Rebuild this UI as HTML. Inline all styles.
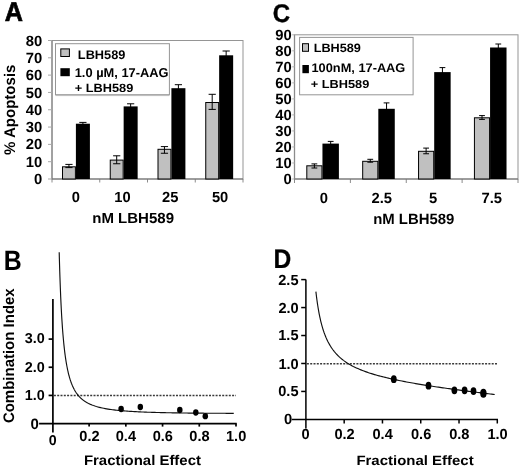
<!DOCTYPE html>
<html><head><meta charset="utf-8"><style>
html,body{margin:0;padding:0;background:#fff;}
body{width:520px;height:469px;overflow:hidden;font-family:"Liberation Sans",sans-serif;}
svg{display:block;text-rendering:geometricPrecision;filter:blur(0.3px);}
</style></head><body>
<svg width="520" height="469" viewBox="0 0 520 469">
<rect width="520" height="469" fill="#fff"/>
<text font-family="Liberation Sans, sans-serif" font-weight="bold" stroke="#000" stroke-width="0.7" stroke-linejoin="miter" font-size="27.05" transform="translate(4.82,20.65) scale(0.932,1)">A</text>
<rect x="52" y="40.5" width="191" height="138.5" fill="none" stroke="#959595" stroke-width="1"/>
<line x1="52" y1="40.5" x2="52" y2="179" stroke="#8c8c8c" stroke-width="1.3"/>
<line x1="48" y1="179.00" x2="52" y2="179.00" stroke="#a8a8a8" stroke-width="1"/>
<text font-family="Liberation Sans, sans-serif" font-weight="bold" font-size="14.80" transform="translate(33.98,184.09) scale(1.000,1)">0</text>
<line x1="48" y1="161.69" x2="52" y2="161.69" stroke="#a8a8a8" stroke-width="1"/>
<text font-family="Liberation Sans, sans-serif" font-weight="bold" font-size="14.80" transform="translate(25.76,166.78) scale(1.000,1)">10</text>
<line x1="48" y1="144.38" x2="52" y2="144.38" stroke="#a8a8a8" stroke-width="1"/>
<text font-family="Liberation Sans, sans-serif" font-weight="bold" font-size="14.80" transform="translate(25.76,149.46) scale(1.000,1)">20</text>
<line x1="48" y1="127.06" x2="52" y2="127.06" stroke="#a8a8a8" stroke-width="1"/>
<text font-family="Liberation Sans, sans-serif" font-weight="bold" font-size="14.80" transform="translate(25.76,132.13) scale(1.000,1)">30</text>
<line x1="48" y1="109.75" x2="52" y2="109.75" stroke="#a8a8a8" stroke-width="1"/>
<text font-family="Liberation Sans, sans-serif" font-weight="bold" font-size="14.80" transform="translate(25.76,114.84) scale(1.000,1)">40</text>
<line x1="48" y1="92.44" x2="52" y2="92.44" stroke="#a8a8a8" stroke-width="1"/>
<text font-family="Liberation Sans, sans-serif" font-weight="bold" font-size="14.80" transform="translate(25.76,97.53) scale(1.000,1)">50</text>
<line x1="48" y1="75.12" x2="52" y2="75.12" stroke="#a8a8a8" stroke-width="1"/>
<text font-family="Liberation Sans, sans-serif" font-weight="bold" font-size="14.80" transform="translate(25.76,80.21) scale(1.000,1)">60</text>
<line x1="48" y1="57.81" x2="52" y2="57.81" stroke="#a8a8a8" stroke-width="1"/>
<text font-family="Liberation Sans, sans-serif" font-weight="bold" font-size="14.80" transform="translate(25.76,62.90) scale(1.000,1)">70</text>
<line x1="48" y1="40.50" x2="52" y2="40.50" stroke="#a8a8a8" stroke-width="1"/>
<text font-family="Liberation Sans, sans-serif" font-weight="bold" font-size="14.80" transform="translate(25.76,45.59) scale(1.000,1)">80</text>
<line x1="52.00" y1="179" x2="52.00" y2="182.5" stroke="#8c8c8c" stroke-width="1"/>
<line x1="99.75" y1="179" x2="99.75" y2="182.5" stroke="#8c8c8c" stroke-width="1"/>
<line x1="147.50" y1="179" x2="147.50" y2="182.5" stroke="#8c8c8c" stroke-width="1"/>
<line x1="195.25" y1="179" x2="195.25" y2="182.5" stroke="#8c8c8c" stroke-width="1"/>
<line x1="243.00" y1="179" x2="243.00" y2="182.5" stroke="#8c8c8c" stroke-width="1"/>
<line x1="52" y1="179" x2="243" y2="179" stroke="#707070" stroke-width="1.2"/>
<rect x="62.50" y="166.80" width="12.90" height="12.20" fill="#c0c0c0" stroke="#000" stroke-width="1"/>
<rect x="75.90" y="123.70" width="14.00" height="55.30" fill="#000"/>
<path d="M68.95 164.40V167.60M65.35 164.40h7.2M65.35 167.60h7.2" stroke="#000" stroke-width="1" fill="none"/>
<path d="M82.90 122.40V124.75M79.30 122.40h7.2M79.30 124.75h7.2" stroke="#000" stroke-width="1" fill="none"/>
<rect x="110.25" y="160.10" width="12.90" height="18.90" fill="#c0c0c0" stroke="#000" stroke-width="1"/>
<rect x="123.65" y="106.40" width="14.00" height="72.60" fill="#000"/>
<path d="M116.70 155.80V163.75M113.10 155.80h7.2M113.10 163.75h7.2" stroke="#000" stroke-width="1" fill="none"/>
<path d="M130.65 103.80V109.25M127.05 103.80h7.2M127.05 109.25h7.2" stroke="#000" stroke-width="1" fill="none"/>
<rect x="158.00" y="149.30" width="12.90" height="29.70" fill="#c0c0c0" stroke="#000" stroke-width="1"/>
<rect x="171.40" y="88.20" width="14.00" height="90.80" fill="#000"/>
<path d="M164.45 146.60V153.25M160.85 146.60h7.2M160.85 153.25h7.2" stroke="#000" stroke-width="1" fill="none"/>
<path d="M178.40 84.70V91.75M174.80 84.70h7.2M174.80 91.75h7.2" stroke="#000" stroke-width="1" fill="none"/>
<rect x="205.75" y="102.50" width="12.90" height="76.50" fill="#c0c0c0" stroke="#000" stroke-width="1"/>
<rect x="219.15" y="55.30" width="14.00" height="123.70" fill="#000"/>
<path d="M212.20 94.30V109.40M208.60 94.30h7.2M208.60 109.40h7.2" stroke="#000" stroke-width="1" fill="none"/>
<path d="M226.15 51.00V59.80M222.55 51.00h7.2M222.55 59.80h7.2" stroke="#000" stroke-width="1" fill="none"/>
<rect x="55.5" y="43.7" width="113.9" height="51.0" fill="#fff" stroke="#959595" stroke-width="1"/>
<line x1="55.5" y1="95.6" x2="169.4" y2="95.6" stroke="#bbb" stroke-width="1"/>
<rect x="60.8" y="48.9" width="8.6" height="7.6" fill="#c0c0c0" stroke="#000" stroke-width="1"/>
<rect x="60.4" y="68.2" width="9.4" height="8" fill="#000"/>
<text font-family="Liberation Sans, sans-serif" font-weight="bold" font-size="12.51" transform="translate(77.84,59.30) scale(1.021,1)">LBH589</text>
<text font-family="Liberation Sans, sans-serif" font-weight="bold" font-size="12.80" transform="translate(74.70,76.60) scale(1.005,1)">1.0 µM, 17-AAG</text>
<text font-family="Liberation Sans, sans-serif" font-weight="bold" font-size="11.93" transform="translate(74.76,91.80) scale(1.070,1)">+ LBH589</text>
<text font-family="Liberation Sans, sans-serif" font-weight="bold" font-size="14.70" transform="translate(71.77,201.55) scale(1.000,1)">0</text>
<text font-family="Liberation Sans, sans-serif" font-weight="bold" font-size="14.70" transform="translate(114.23,201.55) scale(1.000,1)">10</text>
<text font-family="Liberation Sans, sans-serif" font-weight="bold" font-size="14.70" transform="translate(162.04,201.55) scale(1.000,1)">25</text>
<text font-family="Liberation Sans, sans-serif" font-weight="bold" font-size="14.70" transform="translate(211.91,201.55) scale(1.000,1)">50</text>
<text font-family="Liberation Sans, sans-serif" font-weight="bold" font-size="14.55" transform="translate(92.22,222.50) scale(1.033,1)">nM LBH589</text>
<text font-family="Liberation Sans, sans-serif" font-weight="bold" font-size="15.42" transform="translate(14.80,154.98) rotate(-90) scale(0.975,1)">% Apoptosis</text>
<text font-family="Liberation Sans, sans-serif" font-weight="bold" stroke="#000" stroke-width="0.4" stroke-linejoin="miter" font-size="25.58" transform="translate(272.84,21.94) scale(0.937,1)">C</text>
<rect x="294.5" y="34.8" width="223.5" height="144.2" fill="none" stroke="#959595" stroke-width="1"/>
<line x1="294.5" y1="34.8" x2="294.5" y2="179" stroke="#8c8c8c" stroke-width="1.3"/>
<line x1="292.2" y1="179.00" x2="294.5" y2="179.00" stroke="#b0b0b0" stroke-width="1"/>
<text font-family="Liberation Sans, sans-serif" font-weight="bold" font-size="14.80" transform="translate(283.48,184.09) scale(1.000,1)">0</text>
<line x1="292.2" y1="162.98" x2="294.5" y2="162.98" stroke="#b0b0b0" stroke-width="1"/>
<text font-family="Liberation Sans, sans-serif" font-weight="bold" font-size="14.80" transform="translate(275.26,168.07) scale(1.000,1)">10</text>
<line x1="292.2" y1="146.96" x2="294.5" y2="146.96" stroke="#b0b0b0" stroke-width="1"/>
<text font-family="Liberation Sans, sans-serif" font-weight="bold" font-size="14.80" transform="translate(275.26,152.04) scale(1.000,1)">20</text>
<line x1="292.2" y1="130.93" x2="294.5" y2="130.93" stroke="#b0b0b0" stroke-width="1"/>
<text font-family="Liberation Sans, sans-serif" font-weight="bold" font-size="14.80" transform="translate(275.26,136.00) scale(1.000,1)">30</text>
<line x1="292.2" y1="114.91" x2="294.5" y2="114.91" stroke="#b0b0b0" stroke-width="1"/>
<text font-family="Liberation Sans, sans-serif" font-weight="bold" font-size="14.80" transform="translate(275.26,120.00) scale(1.000,1)">40</text>
<line x1="292.2" y1="98.89" x2="294.5" y2="98.89" stroke="#b0b0b0" stroke-width="1"/>
<text font-family="Liberation Sans, sans-serif" font-weight="bold" font-size="14.80" transform="translate(275.26,103.98) scale(1.000,1)">50</text>
<line x1="292.2" y1="82.87" x2="294.5" y2="82.87" stroke="#b0b0b0" stroke-width="1"/>
<text font-family="Liberation Sans, sans-serif" font-weight="bold" font-size="14.80" transform="translate(275.26,87.95) scale(1.000,1)">60</text>
<line x1="292.2" y1="66.84" x2="294.5" y2="66.84" stroke="#b0b0b0" stroke-width="1"/>
<text font-family="Liberation Sans, sans-serif" font-weight="bold" font-size="14.80" transform="translate(275.26,71.93) scale(1.000,1)">70</text>
<line x1="292.2" y1="50.82" x2="294.5" y2="50.82" stroke="#b0b0b0" stroke-width="1"/>
<text font-family="Liberation Sans, sans-serif" font-weight="bold" font-size="14.80" transform="translate(275.26,55.91) scale(1.000,1)">80</text>
<line x1="292.2" y1="34.80" x2="294.5" y2="34.80" stroke="#b0b0b0" stroke-width="1"/>
<text font-family="Liberation Sans, sans-serif" font-weight="bold" font-size="14.80" transform="translate(275.26,39.89) scale(1.000,1)">90</text>
<line x1="294.50" y1="179" x2="294.50" y2="183" stroke="#8c8c8c" stroke-width="1"/>
<line x1="350.38" y1="179" x2="350.38" y2="183" stroke="#8c8c8c" stroke-width="1"/>
<line x1="406.25" y1="179" x2="406.25" y2="183" stroke="#8c8c8c" stroke-width="1"/>
<line x1="462.12" y1="179" x2="462.12" y2="183" stroke="#8c8c8c" stroke-width="1"/>
<line x1="518.00" y1="179" x2="518.00" y2="183" stroke="#8c8c8c" stroke-width="1"/>
<line x1="294.5" y1="179" x2="518" y2="179" stroke="#707070" stroke-width="1.2"/>
<rect x="306.80" y="165.80" width="15.15" height="13.20" fill="#c0c0c0" stroke="#000" stroke-width="1"/>
<rect x="322.45" y="143.60" width="16.45" height="35.40" fill="#000"/>
<path d="M314.38 163.90V168.00M311.48 163.90h5.8M311.48 168.00h5.8" stroke="#000" stroke-width="1" fill="none"/>
<path d="M330.68 141.40V145.75M327.78 141.40h5.8M327.78 145.75h5.8" stroke="#000" stroke-width="1" fill="none"/>
<rect x="362.68" y="161.30" width="15.15" height="17.70" fill="#c0c0c0" stroke="#000" stroke-width="1"/>
<rect x="378.32" y="108.80" width="16.45" height="70.20" fill="#000"/>
<path d="M370.25 159.30V162.20M367.35 159.30h5.8M367.35 162.20h5.8" stroke="#000" stroke-width="1" fill="none"/>
<path d="M386.55 102.90V114.70M383.65 102.90h5.8M383.65 114.70h5.8" stroke="#000" stroke-width="1" fill="none"/>
<rect x="418.55" y="151.30" width="15.15" height="27.70" fill="#c0c0c0" stroke="#000" stroke-width="1"/>
<rect x="434.20" y="72.10" width="16.45" height="106.90" fill="#000"/>
<path d="M426.12 148.10V153.75M423.23 148.10h5.8M423.23 153.75h5.8" stroke="#000" stroke-width="1" fill="none"/>
<path d="M442.43 67.60V76.50M439.53 67.60h5.8M439.53 76.50h5.8" stroke="#000" stroke-width="1" fill="none"/>
<rect x="474.43" y="117.80" width="15.15" height="61.20" fill="#c0c0c0" stroke="#000" stroke-width="1"/>
<rect x="490.07" y="47.50" width="16.45" height="131.50" fill="#000"/>
<path d="M482.00 115.60V119.40M479.10 115.60h5.8M479.10 119.40h5.8" stroke="#000" stroke-width="1" fill="none"/>
<path d="M498.30 44.00V51.00M495.40 44.00h5.8M495.40 51.00h5.8" stroke="#000" stroke-width="1" fill="none"/>
<rect x="299.6" y="37.4" width="113.5" height="57.4" fill="#fff" stroke="#959595" stroke-width="1"/>
<rect x="302.5" y="43.7" width="6" height="7.6" fill="#c0c0c0" stroke="#000" stroke-width="1"/>
<rect x="302.4" y="65" width="6.5" height="8.2" fill="#000"/>
<text font-family="Liberation Sans, sans-serif" font-weight="bold" font-size="12.07" transform="translate(313.64,52.40) scale(1.053,1)">LBH589</text>
<text font-family="Liberation Sans, sans-serif" font-weight="bold" font-size="12.51" transform="translate(311.50,72.30) scale(1.023,1)">100nM, 17-AAG</text>
<text font-family="Liberation Sans, sans-serif" font-weight="bold" font-size="11.49" transform="translate(310.76,87.70) scale(1.112,1)">+ LBH589</text>
<text font-family="Liberation Sans, sans-serif" font-weight="bold" font-size="14.80" transform="translate(319.79,202.59) scale(1.000,1)">0</text>
<text font-family="Liberation Sans, sans-serif" font-weight="bold" font-size="14.80" transform="translate(371.41,202.59) scale(1.000,1)">2.5</text>
<text font-family="Liberation Sans, sans-serif" font-weight="bold" font-size="14.80" transform="translate(429.07,202.51) scale(1.000,1)">5</text>
<text font-family="Liberation Sans, sans-serif" font-weight="bold" font-size="14.80" transform="translate(481.50,202.51) scale(1.000,1)">7.5</text>
<text font-family="Liberation Sans, sans-serif" font-weight="bold" font-size="14.84" transform="translate(373.13,223.70) scale(1.006,1)">nM LBH589</text>
<text font-family="Liberation Sans, sans-serif" font-weight="bold" stroke="#000" stroke-width="0.05" stroke-linejoin="miter" font-size="28.00" transform="translate(3.85,269.78) scale(0.887,1)">B</text>
<line x1="52.9" y1="298.9" x2="52.9" y2="432.4" stroke="#000" stroke-width="1.7"/>
<line x1="39.1" y1="423.6" x2="236.7" y2="423.6" stroke="#000" stroke-width="1.7"/>
<line x1="48.6" y1="395.43" x2="52.9" y2="395.43" stroke="#000" stroke-width="1.7"/>
<line x1="48.6" y1="367.26" x2="52.9" y2="367.26" stroke="#000" stroke-width="1.7"/>
<line x1="48.6" y1="339.09" x2="52.9" y2="339.09" stroke="#000" stroke-width="1.7"/>
<line x1="89.12" y1="423.6" x2="89.12" y2="426.6" stroke="#000" stroke-width="1.7"/>
<line x1="125.84" y1="423.6" x2="125.84" y2="426.6" stroke="#000" stroke-width="1.7"/>
<line x1="162.56" y1="423.6" x2="162.56" y2="426.6" stroke="#000" stroke-width="1.7"/>
<line x1="199.28" y1="423.6" x2="199.28" y2="426.6" stroke="#000" stroke-width="1.7"/>
<line x1="236.00" y1="423.6" x2="236.00" y2="426.6" stroke="#000" stroke-width="1.7"/>
<text font-family="Liberation Sans, sans-serif" font-weight="bold" font-size="14.40" transform="translate(24.66,343.42) scale(1.000,1)">3.0</text>
<text font-family="Liberation Sans, sans-serif" font-weight="bold" font-size="14.40" transform="translate(24.66,371.61) scale(1.000,1)">2.0</text>
<text font-family="Liberation Sans, sans-serif" font-weight="bold" font-size="14.40" transform="translate(24.66,399.78) scale(1.000,1)">1.0</text>
<text font-family="Liberation Sans, sans-serif" font-weight="bold" font-size="15.00" transform="translate(30.38,428.81) scale(1.000,1)">0</text>
<text font-family="Liberation Sans, sans-serif" font-weight="bold" font-size="14.20" transform="translate(48.86,444.58) scale(1.000,1)">0</text>
<text font-family="Liberation Sans, sans-serif" font-weight="bold" font-size="14.60" transform="translate(79.27,440.82) scale(1.000,1)">0.2</text>
<text font-family="Liberation Sans, sans-serif" font-weight="bold" font-size="14.60" transform="translate(115.74,440.82) scale(1.000,1)">0.4</text>
<text font-family="Liberation Sans, sans-serif" font-weight="bold" font-size="14.60" transform="translate(152.68,440.82) scale(1.000,1)">0.6</text>
<text font-family="Liberation Sans, sans-serif" font-weight="bold" font-size="14.60" transform="translate(189.36,440.82) scale(1.000,1)">0.8</text>
<text font-family="Liberation Sans, sans-serif" font-weight="bold" font-size="14.60" transform="translate(225.99,440.82) scale(1.000,1)">1.0</text>
<text font-family="Liberation Sans, sans-serif" font-weight="bold" font-size="14.01" transform="translate(83.89,465.26) scale(1.067,1)">Fractional Effect</text>
<text font-family="Liberation Sans, sans-serif" font-weight="bold" font-size="15.27" transform="translate(14.30,423.10) rotate(-90) scale(0.981,1)">Combination Index</text>
<line x1="53.9" y1="395.43" x2="236" y2="395.43" stroke="#3a3a3a" stroke-width="1.5" stroke-dasharray="2,1.3"/>
<polyline points="59.20,252.25 59.39,259.25 59.58,265.77 59.76,271.84 59.95,277.52 60.14,282.84 60.33,287.82 60.52,292.50 60.70,296.90 60.89,301.05 61.08,304.96 61.27,308.66 61.46,312.16 61.64,315.47 61.83,318.60 62.02,321.58 62.21,324.41 62.40,327.10 62.58,329.67 62.77,332.11 62.96,334.44 63.15,336.66 63.34,338.79 63.53,340.82 63.71,342.76 63.90,344.62 64.09,346.41 64.28,348.12 64.47,349.76 64.65,351.34 64.84,352.85 65.03,354.31 65.22,355.71 65.41,357.06 65.59,358.36 65.78,359.61 65.97,360.82 66.16,361.98 66.35,363.11 66.53,364.20 66.72,365.25 66.91,366.26 67.10,367.24 67.29,368.19 67.47,369.11 67.66,370.00 67.85,370.86 68.04,371.70 68.23,372.51 68.41,373.29 68.60,374.05 68.79,374.79 68.98,375.51 69.17,376.21 69.35,376.88 69.54,377.54 69.73,378.18 69.92,378.80 70.11,379.41 70.29,380.00 70.48,380.57 70.67,381.13 70.86,381.67 71.05,382.20 71.24,382.72 71.42,383.22 71.61,383.71 71.80,384.19 71.99,384.65 72.18,385.11 72.36,385.55 72.55,385.98 72.74,386.40 72.93,386.82 73.12,387.22 73.30,387.61 73.49,388.00 73.68,388.37 73.87,388.74 74.06,389.10 74.24,389.45 74.43,389.80 74.62,390.13 74.81,390.46 75.00,390.78 75.18,391.10 75.37,391.40 75.56,391.71 75.75,392.00 75.94,392.29 76.12,392.58 76.31,392.85 76.50,393.13 76.69,393.39 76.88,393.65 77.06,393.91 77.25,394.16 77.44,394.41 77.63,394.65 77.82,394.89 78.01,395.12 78.19,395.35 78.38,395.57 78.57,395.79 78.76,396.01 78.95,396.22 79.13,396.43 79.32,396.63 79.51,396.83 79.70,397.03 79.89,397.23 80.07,397.42 80.26,397.60 80.45,397.79 80.64,397.97 80.83,398.14 81.01,398.32 81.20,398.49 81.39,398.66 81.58,398.83 81.77,398.99 81.95,399.15 82.14,399.31 82.33,399.46 82.52,399.62 82.71,399.77 82.89,399.91 83.08,400.06 83.27,400.20 83.46,400.34 83.65,400.48 83.83,400.62 84.02,400.75 84.21,400.89 84.40,401.02 84.59,401.15 84.77,401.27 84.96,401.40 85.15,401.52 85.34,401.64 85.53,401.76 85.72,401.88 85.90,401.99 86.09,402.11 86.28,402.22 86.47,402.33 86.66,402.44 86.84,402.55 87.03,402.65 87.22,402.76 87.41,402.86 87.60,402.96 87.78,403.06 87.97,403.16 88.16,403.26 88.35,403.36 88.54,403.45 88.72,403.55 88.91,403.64 89.10,403.73 89.10,403.73 90.56,404.40 92.02,405.01 93.48,405.56 94.94,406.06 96.41,406.52 97.87,406.93 99.33,407.32 100.79,407.68 102.25,408.00 103.71,408.31 105.17,408.59 106.63,408.85 108.09,409.09 109.56,409.32 111.02,409.53 112.48,409.73 113.94,409.91 115.40,410.09 116.86,410.25 118.32,410.40 119.78,410.55 121.24,410.68 122.71,410.81 124.17,410.93 125.63,411.04 127.09,411.15 128.55,411.25 130.01,411.35 131.47,411.44 132.93,411.53 134.39,411.61 135.86,411.69 137.32,411.77 138.78,411.84 140.24,411.91 141.70,411.97 143.16,412.03 144.62,412.09 146.08,412.15 147.54,412.20 149.01,412.25 150.47,412.30 151.93,412.35 153.39,412.39 154.85,412.44 156.31,412.48 157.77,412.52 159.23,412.55 160.69,412.59 162.16,412.63 163.62,412.66 165.08,412.69 166.54,412.72 168.00,412.75 169.46,412.78 170.92,412.80 172.38,412.83 173.84,412.86 175.31,412.88 176.77,412.90 178.23,412.92 179.69,412.95 181.15,412.97 182.61,412.99 184.07,413.00 185.53,413.02 186.99,413.04 188.46,413.06 189.92,413.07 191.38,413.09 192.84,413.10 194.30,413.11 195.76,413.13 197.22,413.14 198.68,413.15 200.14,413.17 201.61,413.18 203.07,413.19 204.53,413.20 205.99,413.21 207.45,413.22 208.91,413.23 210.37,413.23 211.83,413.24 213.29,413.25 214.76,413.26 216.22,413.26 217.68,413.27 219.14,413.28 220.60,413.28 222.06,413.29 223.52,413.29 224.98,413.30 226.44,413.30 227.91,413.30 229.37,413.31 230.83,413.31 232.29,413.31 233.75,413.31" fill="none" stroke="#111" stroke-width="1.15"/>
<ellipse cx="121.1" cy="409.0" rx="2.75" ry="3.15" fill="#000"/>
<ellipse cx="140.3" cy="407.0" rx="2.75" ry="3.15" fill="#000"/>
<ellipse cx="179.8" cy="410.0" rx="2.75" ry="3.15" fill="#000"/>
<ellipse cx="195.8" cy="412.5" rx="2.75" ry="3.15" fill="#000"/>
<ellipse cx="205.3" cy="416.2" rx="2.75" ry="3.15" fill="#000"/>
<text font-family="Liberation Sans, sans-serif" font-weight="bold" stroke="#000" stroke-width="0.2" stroke-linejoin="miter" font-size="26.76" transform="translate(273.54,268.10) scale(0.921,1)">D</text>
<line x1="305.9" y1="279.60" x2="305.9" y2="428.6" stroke="#000" stroke-width="1.5"/>
<line x1="291.8" y1="419.4" x2="498.00" y2="419.4" stroke="#000" stroke-width="1.5"/>
<line x1="301.2" y1="391.44" x2="305.9" y2="391.44" stroke="#000" stroke-width="1.5"/>
<line x1="301.2" y1="363.48" x2="305.9" y2="363.48" stroke="#000" stroke-width="1.5"/>
<line x1="301.2" y1="335.52" x2="305.9" y2="335.52" stroke="#000" stroke-width="1.5"/>
<line x1="301.2" y1="307.56" x2="305.9" y2="307.56" stroke="#000" stroke-width="1.5"/>
<line x1="301.2" y1="279.60" x2="305.9" y2="279.60" stroke="#000" stroke-width="1.5"/>
<line x1="344.18" y1="419.4" x2="344.18" y2="423.5" stroke="#000" stroke-width="1.5"/>
<line x1="382.46" y1="419.4" x2="382.46" y2="423.5" stroke="#000" stroke-width="1.5"/>
<line x1="420.74" y1="419.4" x2="420.74" y2="423.5" stroke="#000" stroke-width="1.5"/>
<line x1="459.02" y1="419.4" x2="459.02" y2="423.5" stroke="#000" stroke-width="1.5"/>
<line x1="497.30" y1="419.4" x2="497.30" y2="423.5" stroke="#000" stroke-width="1.5"/>
<text font-family="Liberation Sans, sans-serif" font-weight="bold" font-size="14.60" transform="translate(278.21,396.46) scale(1.000,1)">0.5</text>
<text font-family="Liberation Sans, sans-serif" font-weight="bold" font-size="14.60" transform="translate(278.39,368.50) scale(1.000,1)">1.0</text>
<text font-family="Liberation Sans, sans-serif" font-weight="bold" font-size="14.60" transform="translate(278.21,340.47) scale(1.000,1)">1.5</text>
<text font-family="Liberation Sans, sans-serif" font-weight="bold" font-size="14.60" transform="translate(278.39,312.58) scale(1.000,1)">2.0</text>
<text font-family="Liberation Sans, sans-serif" font-weight="bold" font-size="14.60" transform="translate(278.21,284.62) scale(1.000,1)">2.5</text>
<text font-family="Liberation Sans, sans-serif" font-weight="bold" font-size="14.80" transform="translate(283.88,424.34) scale(1.000,1)">0</text>
<text font-family="Liberation Sans, sans-serif" font-weight="bold" font-size="14.60" transform="translate(301.60,438.92) scale(1.000,1)">0</text>
<text font-family="Liberation Sans, sans-serif" font-weight="bold" font-size="14.60" transform="translate(334.43,438.92) scale(1.000,1)">0.2</text>
<text font-family="Liberation Sans, sans-serif" font-weight="bold" font-size="14.60" transform="translate(372.46,438.92) scale(1.000,1)">0.4</text>
<text font-family="Liberation Sans, sans-serif" font-weight="bold" font-size="14.60" transform="translate(410.96,438.92) scale(1.000,1)">0.6</text>
<text font-family="Liberation Sans, sans-serif" font-weight="bold" font-size="14.60" transform="translate(449.20,438.92) scale(1.000,1)">0.8</text>
<text font-family="Liberation Sans, sans-serif" font-weight="bold" font-size="14.60" transform="translate(487.39,438.92) scale(1.000,1)">1.0</text>
<text font-family="Liberation Sans, sans-serif" font-weight="bold" font-size="13.61" transform="translate(356.39,465.06) scale(1.100,1)">Fractional Effect</text>
<line x1="306.9" y1="363.8" x2="498" y2="363.8" stroke="#3a3a3a" stroke-width="1.5" stroke-dasharray="2,1.3"/>
<polyline points="315.90,291.61 316.26,294.70 316.62,297.58 316.97,300.29 317.33,302.83 317.69,305.22 318.05,307.48 318.41,309.61 318.76,311.63 319.12,313.54 319.48,315.35 319.84,317.08 320.20,318.72 320.55,320.28 320.91,321.78 321.27,323.20 321.63,324.57 321.99,325.88 322.34,327.13 322.70,328.33 323.06,329.48 323.42,330.59 323.78,331.66 324.13,332.69 324.49,333.67 324.85,334.63 325.21,335.55 325.57,336.44 325.92,337.30 326.28,338.13 326.64,338.93 327.00,339.71 327.36,340.46 327.71,341.19 328.07,341.90 328.43,342.59 328.79,343.26 329.15,343.90 329.50,344.53 329.86,345.15 330.22,345.74 330.58,346.32 330.93,346.89 331.29,347.44 331.65,347.97 332.01,348.49 332.37,349.00 332.72,349.50 333.08,349.98 333.44,350.46 333.80,350.92 334.16,351.37 334.51,351.81 334.87,352.24 335.23,352.66 335.59,353.08 335.95,353.48 336.30,353.88 336.66,354.26 337.02,354.64 337.38,355.01 337.74,355.38 338.09,355.73 338.45,356.08 338.81,356.43 339.17,356.76 339.53,357.09 339.88,357.42 340.24,357.73 340.60,358.05 340.96,358.35 341.32,358.65 341.67,358.95 342.03,359.24 342.39,359.53 342.75,359.81 343.11,360.08 343.46,360.36 343.82,360.62 344.18,360.89 344.18,360.89 345.70,361.96 347.22,362.96 348.74,363.91 350.26,364.80 351.78,365.64 353.30,366.44 354.82,367.19 356.34,367.91 357.86,368.60 359.38,369.26 360.90,369.89 362.42,370.49 363.95,371.07 365.47,371.62 366.99,372.16 368.51,372.68 370.03,373.18 371.55,373.66 373.07,374.13 374.59,374.58 376.11,375.02 377.63,375.45 379.15,375.87 380.67,376.27 382.19,376.67 383.71,377.05 385.23,377.42 386.75,377.79 388.27,378.15 389.79,378.50 391.31,378.84 392.83,379.18 394.35,379.51 395.87,379.83 397.39,380.15 398.91,380.46 400.43,380.76 401.96,381.06 403.48,381.36 405.00,381.65 406.52,381.94 408.04,382.22 409.56,382.49 411.08,382.77 412.60,383.04 414.12,383.30 415.64,383.57 417.16,383.83 418.68,384.08 420.20,384.34 421.72,384.59 423.24,384.83 424.76,385.08 426.28,385.32 427.80,385.56 429.32,385.80 430.84,386.03 432.36,386.26 433.88,386.49 435.40,386.72 436.92,386.95 438.45,387.17 439.97,387.39 441.49,387.61 443.01,387.83 444.53,388.05 446.05,388.26 447.57,388.47 449.09,388.69 450.61,388.90 452.13,389.11 453.65,389.31 455.17,389.52 456.69,389.72 458.21,389.93 459.73,390.13 461.25,390.33 462.77,390.53 464.29,390.73 465.81,390.93 467.33,391.12 468.85,391.32 470.37,391.51 471.89,391.71 473.41,391.90 474.93,392.09 476.46,392.28 477.98,392.47 479.50,392.66 481.02,392.85 482.54,393.04 484.06,393.23 485.58,393.41 487.10,393.60 488.62,393.78 490.14,393.97 491.66,394.15 493.18,394.34 494.70,394.52" fill="none" stroke="#111" stroke-width="1.15"/>
<ellipse cx="393.8" cy="379.2" rx="2.9" ry="3.9" fill="#000"/>
<ellipse cx="428.5" cy="385.7" rx="2.9" ry="3.9" fill="#000"/>
<ellipse cx="454.4" cy="390.3" rx="2.9" ry="3.9" fill="#000"/>
<ellipse cx="464.6" cy="390.3" rx="2.9" ry="3.9" fill="#000"/>
<ellipse cx="473.5" cy="391.1" rx="2.9" ry="3.9" fill="#000"/>
<ellipse cx="483.4" cy="393.2" rx="3.2" ry="4.5" fill="#000"/>
</svg>
</body></html>
